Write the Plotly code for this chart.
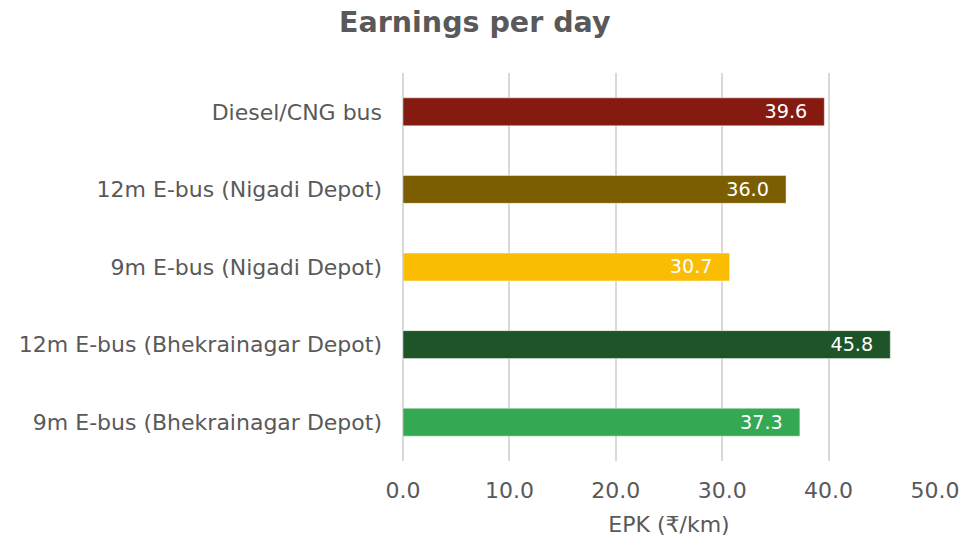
import plotly.graph_objects as go

categories = ["Diesel/CNG bus", "12m E-bus (Nigadi Depot)", "9m E-bus (Nigadi Depot)",
              "12m E-bus (Bhekrainagar Depot)", "9m E-bus (Bhekrainagar Depot)"]
epk_values = [39.6, 36.0, 30.7, 45.8, 37.3]
bar_colors = ["#841A10", "#7B5E02", "#FBBC04", "#1D5529", "#34A853"]
x_ticks = [0, 10, 20, 30, 40, 50]
x_tick_labels = ["0.0", "10.0", "20.0", "30.0", "40.0", "50.0"]

FONT = "DejaVu Sans, Liberation Sans, Arial, sans-serif"
GREY = "#595959"

fig = go.Figure(go.Bar(
    x=epk_values,
    y=categories,
    orientation="h",
    marker=dict(color=bar_colors, line=dict(color="rgba(255,255,255,0.45)", width=1)),
    width=0.36,
    text=[f"{v:.1f}" + "\u00a0\u00a0\u200a" for v in epk_values],
    textposition="inside",
    insidetextanchor="end",
    textfont=dict(color="white", size=21, family=FONT),
    hoverinfo="skip",
))

fig.update_layout(
    width=963, height=543,
    margin=dict(l=403, r=28, t=73, b=82),
    paper_bgcolor="white", plot_bgcolor="white",
    font=dict(family=FONT, color=GREY, size=22),
    title=dict(text="<b>Earnings per day</b>", x=0.493, xanchor="center", y=0.96, yanchor="middle",
               font=dict(size=28.5, color=GREY, family=FONT)),
    showlegend=False,
)
fig.update_xaxes(
    range=[0, 50], tickvals=x_ticks, ticktext=x_tick_labels, automargin=False,
    showgrid=True, gridcolor="#D9D9D9", gridwidth=2, zeroline=True, zerolinecolor="#D9D9D9",
    zerolinewidth=2, showline=False, ticks="", ticklabelstandoff=14,
    tickfont=dict(size=22, color=GREY),
    title=dict(text="EPK (₹/km)", font=dict(size=22, color=GREY), standoff=14),
)
fig.update_yaxes(
    autorange="reversed", showgrid=False, showline=False, ticks="", automargin=False,
    tickfont=dict(size=22, color=GREY), ticklabelstandoff=20,
)

fig.write_html("out.html", config={"displayModeBar": False},
               post_script="document.body.style.margin='0';document.body.style.overflow='hidden';")
